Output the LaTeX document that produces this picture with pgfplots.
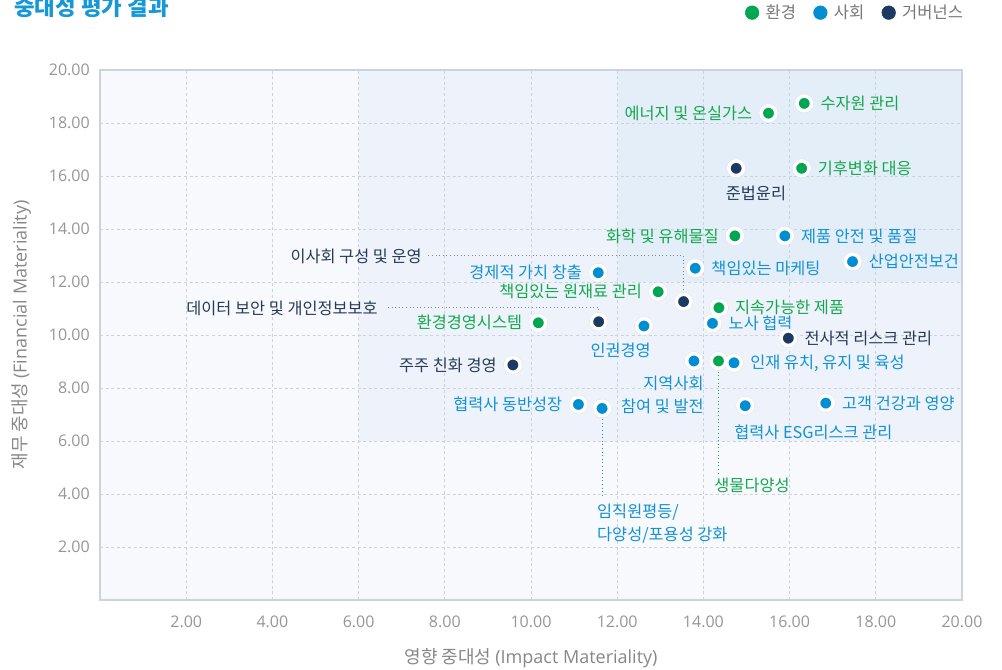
\documentclass[border=0pt]{standalone}
\usepackage{pgfplots}
\pgfplotsset{compat=1.18}
\usepackage{pgfplotstable}
\usepackage{fontspec}
\setmainfont{Noto Sans CJK KR}
\newfontfamily\latinfont{Open Sans}
\definecolor{cG}{RGB}{0,166,81}
\definecolor{cB}{RGB}{0,142,211}
\definecolor{cN}{RGB}{28,57,97}
\definecolor{tG}{RGB}{20,168,78}
\definecolor{tB}{RGB}{18,146,212}
\definecolor{tN}{RGB}{40,58,88}
\definecolor{bg0}{RGB}{247,249,253}
\definecolor{bg1}{RGB}{238,243,251}
\definecolor{bg2}{RGB}{228,238,248}
\definecolor{gridc}{RGB}{206,210,218}
\definecolor{borderc}{RGB}{205,211,222}
\definecolor{tickc}{RGB}{150,150,150}
\definecolor{labc}{RGB}{135,135,135}
\definecolor{legc}{RGB}{120,120,120}
\definecolor{titlec}{RGB}{22,152,214}
\definecolor{leadN}{RGB}{120,135,158}
\definecolor{shadc}{RGB}{222,227,235}

\pgfplotstableread{
x y
16.34 18.74
15.51 18.37
16.28 16.29
14.73 13.74
12.95 11.63
14.36 11.03
10.17 10.46
14.35 9.02
}\envdata
\pgfplotstableread{
x y
15.89 13.74
17.46 12.77
13.81 12.52
11.56 12.35
14.21 10.44
12.62 10.34
13.78 9.02
14.71 8.95
16.84 7.43
14.97 7.33
11.10 7.38
11.65 7.23
}\socdata
\pgfplotstableread{
x y
14.76 16.29
13.54 11.26
11.57 10.50
15.97 9.88
9.58 8.87
}\govdata

\newcommand{\lblfont}{\fontsize{12.25pt}{17.25pt}\selectfont}
\newcommand{\R}[4]{\node[anchor=west, inner sep=0pt, text=#3, xshift=12pt, font=\lblfont] at (axis cs:#1,#2) {#4};}
\newcommand{\Lf}[4]{\node[anchor=east, inner sep=0pt, text=#3, xshift=-12pt, font=\lblfont] at (axis cs:#1,#2) {#4};}

\pgfplotsset{
  common/.style={scale only axis, width=646.5pt, height=397.5pt,
    xmin=0, xmax=20, ymin=0, ymax=20, at={(75pt,52.5pt)}, anchor=south west},
  shadow/.style={only marks, mark=*, mark size=7.0pt, forget plot,
    mark options={draw=shadc, line width=0.3pt, fill=shadc}},
  pts/.style={only marks, mark=*, mark size=5.5pt, forget plot,
    mark options={draw=white, line width=2.7pt, fill=#1}},
}

\begin{document}
\begin{tikzpicture}
\useasboundingbox (0pt,0pt) rectangle (751.5pt,502.5pt);
\node[anchor=base west, inner sep=0pt, text=titlec, font=\fontsize{16.8pt}{19pt}\selectfont\bfseries] at (10.5pt,491pt) {중대성 평가 결과};

\begin{axis}[common, hide axis]
\addplot[draw=none, fill=bg0] coordinates {(0,0) (20,0) (20,20) (0,20)};
\addplot[draw=none, fill=bg1] coordinates {(6,6) (20,6) (20,20) (6,20)};
\addplot[draw=none, fill=bg2] coordinates {(12,12) (20,12) (20,20) (12,20)};
\end{axis}

\begin{axis}[common,
  axis line style={draw=borderc, line width=0.8pt},
  xtick={2,4,...,20}, ytick={2,4,...,20},
  major tick length=0pt,
  grid=major,
  major grid style={draw=gridc, line width=0.5pt, dash pattern=on 2.2pt off 2pt},
  ticklabel style={font=\latinfont\fontsize{12pt}{14pt}\selectfont, text=tickc,
    /pgf/number format/fixed, /pgf/number format/fixed zerofill,
    /pgf/number format/precision=2, /pgf/number format/assume math mode=true},
  xticklabel style={anchor=center, yshift=-16.5pt},
  yticklabel style={anchor=east, inner sep=0pt, xshift=-7.5pt},
  xlabel={영향 중대성 {\latinfont (Impact Materiality)}},
  ylabel={재무 중대성 {\latinfont (Financial Materiality)}},
  every axis x label/.style={at={(rel axis cs:0.5,0)}, yshift=-43.5pt, anchor=center,
    font=\fontsize{13.5pt}{16pt}\selectfont, text=labc},
  every axis y label/.style={at={(rel axis cs:0,0.5)}, xshift=-59pt, anchor=center, rotate=90,
    font=\fontsize{13.5pt}{16pt}\selectfont, text=labc},
  legend columns=3,
  legend style={at={(rel axis cs:1,1)}, anchor=east, xshift=0.75pt, yshift=43pt,
    draw=none, fill=none, inner sep=0pt, outer sep=0pt,
    nodes={inner sep=0pt, text=legc, font=\fontsize{12.4pt}{14pt}\selectfont},
    /tikz/every odd column/.append style={column sep=4.8pt},
    /tikz/every even column/.append style={column sep=13pt}},
]
\addlegendimage{legend image code/.code={\fill[cG] (5.1pt,0pt) circle (5.1pt);}}
\addlegendentry{환경}
\addlegendimage{legend image code/.code={\fill[cB] (5.1pt,0pt) circle (5.1pt);}}
\addlegendentry{사회}
\addlegendimage{legend image code/.code={\fill[cN] (5.1pt,0pt) circle (5.1pt);}}
\addlegendentry{거버넌스}

% leader lines
\addplot[forget plot, draw=leadN, line width=0.7pt, dotted] coordinates {(7.62,12.99) (13.54,12.99) (13.54,11.26)};
\addplot[forget plot, draw=leadN, line width=0.7pt, dotted] coordinates {(6.68,11.05) (11.57,11.05) (11.57,10.50)};
\addplot[forget plot, draw=tB, line width=0.7pt, dotted] coordinates {(11.65,7.23) (11.65,3.90)};
\addplot[forget plot, draw=tG, line width=0.7pt, dotted] coordinates {(14.35,9.02) (14.35,4.75)};

% shadows
\addplot[shadow] table {\envdata};
\addplot[shadow] table {\socdata};
\addplot[shadow] table {\govdata};
% points
\addplot[pts=cG] table {\envdata};
\addplot[pts=cB] table {\socdata};
\addplot[pts=cN] table {\govdata};

% environment labels
\R{16.34}{18.74}{tG}{수자원 관리}
\Lf{15.51}{18.37}{tG}{에너지 및 온실가스}
\R{16.28}{16.29}{tG}{기후변화 대응}
\Lf{14.73}{13.74}{tG}{화학 및 유해물질}
\Lf{12.95}{11.63}{tG}{책임있는 원재료 관리}
\R{14.36}{11.03}{tG}{지속가능한 제품}
\Lf{10.17}{10.46}{tG}{환경경영시스템}
\node[anchor=west, inner sep=0pt, text=tG, font=\lblfont] at (axis cs:14.25,4.34) {생물다양성};
% social labels
\R{15.89}{13.74}{tB}{제품 안전 및 품질}
\R{17.46}{12.77}{tB}{산업안전보건}
\R{13.81}{12.52}{tB}{책임있는 마케팅}
\Lf{11.56}{12.35}{tB}{경제적 가치 창출}
\R{14.21}{10.44}{tB}{노사 협력}
\node[anchor=center, inner sep=0pt, text=tB, font=\lblfont] at (axis cs:12.08,9.43) {인권경영};
\node[anchor=east, inner sep=0pt, text=tB, font=\lblfont, align=right] at (axis cs:14.01,7.75) {지역사회\\참여 및 발전};
\R{14.71}{8.95}{tB}{인재 유치, 유지 및 육성}
\R{16.84}{7.43}{tB}{고객 건강과 영양}
\node[anchor=west, inner sep=0pt, text=tB, font=\lblfont] at (axis cs:14.71,6.34) {협력사 ESG리스크 관리};
\Lf{11.10}{7.38}{tB}{협력사 동반성장}
\node[anchor=west, inner sep=0pt, text=tB, font=\lblfont, align=left] at (axis cs:11.53,2.89) {임직원평등/\\다양성/포용성 강화};
% governance labels
\node[anchor=center, inner sep=0pt, text=tN, font=\lblfont] at (axis cs:15.22,15.36) {준법윤리};
\node[anchor=east, inner sep=0pt, text=tN, font=\lblfont] at (axis cs:7.47,12.98) {이사회 구성 및 운영};
\node[anchor=east, inner sep=0pt, text=tN, font=\lblfont] at (axis cs:6.45,11.02) {데이터 보안 및 개인정보보호};
\R{15.97}{9.88}{tN}{전사적 리스크 관리}
\Lf{9.58}{8.87}{tN}{주주 친화 경영}
\end{axis}
\end{tikzpicture}
\end{document}
